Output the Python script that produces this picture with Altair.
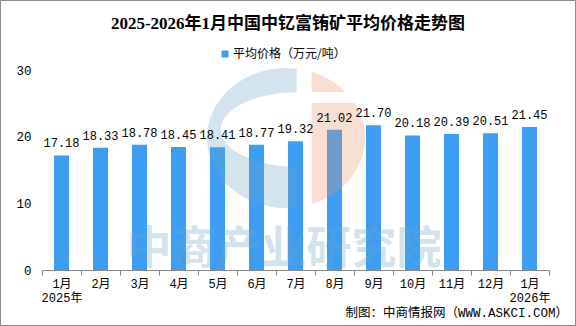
import altair as alt
import pandas as pd

TITLE = "2025-2026年1月中国中钇富铕矿平均价格走势图"
SERIES = "平均价格（万元/吨）"
SOURCE = "制图：中商情报网（WWW.ASKCI.COM）"
WATERMARK = "中商产业研究院"
months = ["1月 2025年", "2月", "3月", "4月", "5月", "6月", "7月", "8月", "9月",
          "10月", "11月", "12月", "1月 2026年"]
prices = [17.18, 18.33, 18.78, 18.45, 18.41, 18.77, 19.32, 21.02, 21.70,
          20.18, 20.39, 20.51, 21.45]
y_ticks = [0, 10, 20, 30]

W, H = 507, 200
LEFT, TOP = 42, 70

df = pd.DataFrame({"month": months, "price": prices, "series": [SERIES] * len(months)})

CJK = "Noto Sans CJK SC"
MONO = "Liberation Mono, Noto Sans CJK SC"
BLUE = "#3d9df3"

xenc = alt.X(
    "month:N", sort=months, title=None,
    scale=alt.Scale(paddingInner=0, paddingOuter=0),
    axis=alt.Axis(labelAngle=0, labelExpr="split(datum.label, ' ')", tickBand="extent",
                  tickSize=5, tickColor="#888888", domainColor="#888888",
                  labelFontSize=12, labelFont=MONO, labelColor="#000000",
                  labelPadding=3, labelLineHeight=14),
)
yenc = alt.Y(
    "price:Q", title=None, scale=alt.Scale(domain=[0, 30]),
    axis=alt.Axis(values=y_ticks, grid=False, ticks=False, domain=False,
                  labelPadding=11, labelFontSize=12.5, labelFont=MONO,
                  labelColor="#000000"),
)

bars = alt.Chart(df).mark_bar(width=15).encode(
    x=xenc, y=yenc,
    color=alt.Color("series:N", scale=alt.Scale(range=[BLUE]),
                    legend=alt.Legend(orient="none", legendX=177, legendY=-22, title=None,
                                      padding=0, symbolType="square", symbolSize=49,
                                      symbolStrokeWidth=0, labelFont=CJK, labelFontSize=12,
                                      labelColor="#000000", labelOffset=2)),
)

value_labels = alt.Chart(df).mark_text(
    dy=-8, baseline="alphabetic", font=MONO, fontSize=12, color="#000000"
).encode(
    x=alt.X("month:N", sort=months), y="price:Q",
    text=alt.Text("price:Q", format=".2f"),
)

one = pd.DataFrame({"k": [0]})

BLUE_LOGO = ("M 0.135 -0.878 L 0.135 0.878 A 1 0.886 0 1 1 0.135 -0.878 Z "
             "M 0.135 -0.582 A 1.008 0.475 0 0 0 0.135 0.367 Z")
ORANGE_LOGO = ("M 0.325 -0.838 A 1 0.886 0 0 1 0.754 -0.582 L 0.325 -0.582 Z "
               "M 0.325 -0.443 L 0.866 -0.443 A 1 0.886 0 0 1 0.325 0.838 Z")

logo_blue = alt.Chart(one).mark_point(
    shape=BLUE_LOGO, size=24964, filled=True, color="#6ca5c6", opacity=0.3, strokeWidth=0
).encode(x=alt.value(244), y=alt.value(68))
logo_orange = alt.Chart(one).mark_point(
    shape=ORANGE_LOGO, size=24964, filled=True, color="#e8946c", opacity=0.3, strokeWidth=0
).encode(x=alt.value(244), y=alt.value(68))

wm = alt.Chart(pd.DataFrame({"t": [WATERMARK]})).mark_text(
    font=CJK, fontWeight="bold", fontSize=45, color="#6ca5c6", opacity=0.3,
    baseline="middle", align="center"
).encode(x=alt.value(242), y=alt.value(180), text="t:N")

title = alt.Chart(pd.DataFrame({"t": [TITLE]})).mark_text(
    font="Liberation Serif, Noto Sans CJK SC", fontWeight="bold", fontSize=17,
    color="#000000", baseline="middle", align="center"
).encode(x=alt.value(246), y=alt.value(-46), text="t:N")

source = alt.Chart(pd.DataFrame({"t": [SOURCE]})).mark_text(
    font=MONO, fontSize=12.5, color="#000000", baseline="middle", align="right"
).encode(x=alt.value(526), y=alt.value(243), text="t:N")

border = alt.Chart(one).mark_rect(
    fillOpacity=0, stroke="#8c8c8c", strokeWidth=1
).encode(x=alt.value(-41.5), x2=alt.value(533.5), y=alt.value(-69.5), y2=alt.value(255.5))

chart = alt.layer(
    bars, logo_blue, logo_orange, wm, value_labels, title, source, border
).properties(
    width=W, height=H,
    padding={"left": LEFT, "top": TOP, "right": 576 - LEFT - W, "bottom": 326 - TOP - H},
    autosize="none",
).configure_view(stroke=None)

chart.save("out.html", embed_options={"renderer": "svg", "actions": False})
